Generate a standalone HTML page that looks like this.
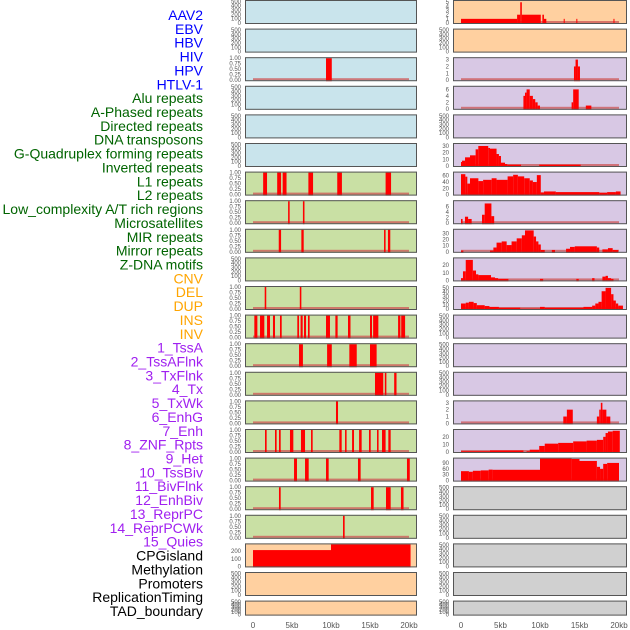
<!DOCTYPE html>
<html><head><meta charset="utf-8">
<style>
html,body{margin:0;padding:0;background:#fff;}
#wrap{position:relative;width:630px;height:630px;overflow:hidden;}
svg{position:absolute;left:0;top:0;}
</style></head>
<body>
<div id="wrap">
<svg id="chart" width="630" height="630" xmlns="http://www.w3.org/2000/svg"></svg>
</div>
<script>
// ---------- data ----------
const trackLabels = ["AAV2","EBV","HBV","HIV","HPV","HTLV-1","Alu repeats","A-Phased repeats","Directed repeats","DNA transposons","G-Quadruplex forming repeats","Inverted repeats","L1 repeats","L2 repeats","Low_complexity A/T rich regions","Microsatellites","MIR repeats","Mirror repeats","Z-DNA motifs","CNV","DEL","DUP","INS","INV","1_TssA","2_TssAFlnk","3_TxFlnk","4_Tx","5_TxWk","6_EnhG","7_Enh","8_ZNF_Rpts","9_Het","10_TssBiv","11_BivFlnk","12_EnhBiv","13_ReprPC","14_ReprPCWk","15_Quies","CPGisland","Methylation","Promoters","ReplicationTiming","TAD_boundary"];
const xTickValues = [0,5,10,15,20];
const xTickLabels = ["0","5kb","10kb","15kb","20kb"];
const emptyTicks = [0,100,200,300,400,500];
const binaryTicks = [0,0.25,0.5,0.75,1];

// left column: binary presence intervals [startKb, endKb]
const leftBars = {
  2:[[9.36,10.1]],
  6:[[1.3,1.8],[3.1,3.6],[3.8,4.3],[7.1,7.7],[10.8,11.4],[17.0,17.7]],
  7:[[4.5,4.7],[6.4,6.6]],
  8:[[3.3,3.6],[6.2,6.5],[16.8,17.0],[17.3,17.6]],
  10:[[1.5,1.7],[6.0,6.2]],
  11:[[0.17,0.56],[0.9,1.45],[1.8,2.18],[2.56,2.82],[3.46,3.68],[5.68,5.9],[6.1,6.37],[6.54,6.8],[7.05,7.26],[9.36,9.87],[10.56,10.85],[12.18,12.5],[15.0,15.26],[15.4,16.07],[18.6,18.9],[19.0,19.5]],
  12:[[5.9,6.4],[9.5,10.1],[12.35,13.3],[15.0,15.85]],
  13:[[15.64,16.7],[16.9,17.1],[18.1,18.4]],
  14:[[10.64,10.9]],
  15:[[1.54,1.75],[2.82,3.03],[3.33,3.55],[4.74,5.17],[6.15,6.67],[7.44,7.65],[11.07,11.37],[11.8,12.0],[12.7,12.95],[13.6,13.93],[14.87,15.09],[15.9,16.1],[16.54,17.0],[17.35,17.65]],
  16:[[5.26,5.64],[6.67,7.14],[9.36,9.7],[13.46,13.8],[19.74,20.1]],
  17:[[3.33,3.55],[15.13,15.47],[17.05,17.65],[18.97,19.3]],
  18:[[11.54,11.75]]
};
// CpG island / methylation values [startKb,endKb,value]
const cpgSegments = [[0,10,215],[10,20.2,300]];
const cpgTicks = [0,100,200];

// right column: histogram segments [startKb,endKb,value]
const rightHist = {
  0:[[0,7.1,1],[7.1,7.5,2],[7.5,7.7,5],[7.7,10.1,2],[10.3,10.5,2],[10.5,10.8,1],[13.0,13.1,1],[14.6,14.7,1],[19.3,19.4,1]],
  2:[[14.3,14.5,2],[14.5,14.8,3],[14.8,15.06,2]],
  3:[[7.9,8.1,4],[8.1,8.3,5],[8.3,8.7,6],[8.7,9.1,4],[9.1,9.4,3],[9.4,9.7,2],[9.7,10.0,1],[14.0,14.2,2],[14.2,14.9,6],[15.8,16.5,1]],
  5:[[0,0.13,6],[0.13,0.51,8],[0.51,1.14,13],[1.14,1.85,16],[1.85,2.19,25],[2.19,3.45,30],[3.45,3.67,27],[3.67,4.5,26],[4.5,4.8,18],[4.8,5.06,15],[5.06,5.57,5],[5.57,5.86,3],[5.86,7.6,2],[9.9,15.15,2]],
  6:[[0,0.55,65],[0.55,0.8,57],[0.8,1.14,35],[1.14,2.2,52],[2.2,2.8,43],[2.8,3.88,47],[3.88,4.5,52],[4.5,5.9,47],[5.9,6.6,58],[6.6,7.2,63],[7.2,8.0,58],[8.0,8.7,52],[8.7,9.1,45],[9.1,9.6,40],[9.6,10.1,62],[10.1,10.5,7],[10.5,12,10],[12,17.5,8],[17.5,18.5,6],[18.5,19.6,8],[19.6,20.2,10]],
  7:[[0,0.2,1.5],[0.5,0.9,2.3],[0.9,1.35,1.5],[2.66,3.0,3],[3.0,3.85,7],[3.85,4.2,2.5]],
  8:[[0,0.3,2],[3.67,4.1,2],[4.1,4.5,7],[4.5,5.15,15],[5.15,5.78,17],[5.78,6.4,11],[6.4,7.05,17],[7.05,7.7,22],[7.7,8.1,27],[8.1,9.2,35],[9.2,9.5,25],[9.5,9.8,17],[9.8,10.1,12],[10.1,10.6,3],[11.5,11.9,3],[13.3,13.8,5],[13.8,14.4,8],[14.4,17.2,9],[17.2,17.5,7],[17.9,18.6,4],[18.6,19.2,6],[19.2,19.9,3]],
  9:[[0,0.25,3],[0.25,0.6,12],[0.6,1.5,27],[1.5,1.9,13],[1.9,2.2,8],[2.2,3.8,7],[3.8,4.3,4],[4.3,4.7,3],[4.7,6.0,2],[10.0,10.4,2],[14.6,14.9,2],[16.6,16.9,3],[17.9,18.3,5],[18.3,18.6,6],[18.6,19.0,3],[19.0,19.3,2]],
  10:[[0,0.6,13],[0.6,1.0,15],[1.0,1.6,17],[1.6,2.0,14],[2.0,3.0,9],[3.0,3.6,7],[3.6,4.8,5],[4.8,7.5,3],[7.5,10.0,1],[10.0,10.6,5],[10.6,15.5,3],[15.5,16.6,5],[16.6,17.0,8],[17.0,17.4,13],[17.4,17.8,17],[17.8,18.3,42],[18.3,19.0,50],[19.0,19.3,35],[19.3,19.6,20],[19.6,19.9,13],[19.9,20.5,8]],
  14:[[12.95,13.4,1],[13.4,14.15,2],[17.2,17.5,1],[17.5,17.7,2],[17.7,17.9,3],[17.9,18.4,2],[18.4,18.9,1]],
  15:[[0,3.67,1],[3.67,7.9,2],[8.3,8.7,1],[8.7,9.9,3],[9.9,10.6,8],[10.6,12.3,11],[12.3,14.2,12],[14.2,15.9,14],[15.9,17.2,15],[17.2,18.0,16],[18.0,18.3,20],[18.3,18.6,25],[18.6,19.2,27],[19.2,20.1,28]],
  16:[[0,1.0,48],[1.0,1.5,45],[1.5,2.5,50],[2.5,3.5,52],[3.5,4.0,56],[4.0,10.0,55],[10.0,14.0,120],[14.0,15.0,110],[15.0,17.2,100],[17.2,17.6,70],[17.6,18.0,60],[18.0,18.5,85],[18.5,20.0,90]]
};
const rightYMax = {0:5.3,2:3.2,3:6.8,5:33,6:70,7:7.8,8:36,9:29,10:52,14:3.2,15:29,16:112};
const rightTicks = {0:[0,1,2,3,4,5],2:[0,1,2,3],3:[0,2,4,6],5:[0,10,20,30],6:[0,20,40,60],7:[0,2,4,6],8:[0,10,20,30],9:[0,10,20],10:[0,10,20,30,40,50],14:[0,1,2,3],15:[0,10,20],16:[0,30,60,90]};

// ---------- layout ----------
const NS = "http://www.w3.org/2000/svg";
const svg = document.getElementById("chart");
const nRows = 22;
const rowTop = i => i*28.6;
const rowH = i => (i===21?15:24);
const cols = [
  {x0:245,x1:417,k0:253,k1:409,bgs:["#c9e4ec","#c9e4ec","#c9e4ec","#c9e4ec","#c9e4ec","#c9e4ec","#c9e0a4","#c9e0a4","#c9e0a4","#c9e0a4","#c9e0a4","#c9e0a4","#c9e0a4","#c9e0a4","#c9e0a4","#c9e0a4","#c9e0a4","#c9e0a4","#c9e0a4","#ffd0a0","#ffd0a0","#ffd0a0"]},
  {x0:453,x1:627,k0:461,k1:619,bgs:["#ffd0a0","#ffd0a0","#d8c8e4","#d8c8e4","#d8c8e4","#d8c8e4","#d8c8e4","#d8c8e4","#d8c8e4","#d8c8e4","#d8c8e4","#d8c8e4","#d8c8e4","#d8c8e4","#d8c8e4","#d8c8e4","#d8c8e4","#d0d0d0","#d0d0d0","#d0d0d0","#d0d0d0","#d0d0d0"]}
];
const xScale = (c,kb) => c.k0 + kb/20*(c.k1-c.k0);
const yScale = (i,v,ymax) => { const t=rowTop(i), h=rowH(i); const vv=Math.min(v,ymax); return t+h-1 - vv/ymax*(h-2); };

function mk(tag, attrs){ const e=document.createElementNS(NS,tag); for(const k in attrs) e.setAttribute(k,attrs[k]); svg.appendChild(e); return e; }

// labels
const labelColor = i => i<6?"#0000ff":(i<19?"#006400":(i<24?"#ffa500":(i<39?"#a020f0":"#000")));
trackLabels.forEach((s,i)=>{
  const t = mk("text",{x:203,y:20+i*13.86,"text-anchor":"end","font-family":"Liberation Sans, sans-serif","font-size":"14",fill:labelColor(i)});
  t.textContent = s;
  
  
});

function yTicks(c,i,ticks,ymax,fmt){
  ticks.forEach(v=>{
    const t = mk("text",{x:c.x0-4,y:yScale(i,v,ymax)+2,"text-anchor":"end","font-family":"Liberation Sans, sans-serif","font-size":"6",fill:"#555"});
    t.textContent = fmt(v);
    
    
  });
}

for(let ci=0; ci<2; ci++){
  const c = cols[ci];
  for(let i=0;i<nRows;i++){
    const t=rowTop(i), h=rowH(i);
    const bg = mk("rect",{x:c.x0,y:t,width:c.x1-c.x0,height:h,fill:c.bgs[i]});
    
    
    let mode="empty", ymax=510, ticks=emptyTicks, fmt=v=>String(v);
    if(ci===0 && leftBars[i]){ mode="bin"; ymax=1; ticks=binaryTicks; fmt=v=>v.toFixed(2); }
    if(ci===0 && i===19){ mode="cpg"; ymax=290; ticks=cpgTicks; }
    if(ci===1 && rightHist[i]){ mode="hist"; ymax=rightYMax[i]; ticks=rightTicks[i]; }
    if(mode==="bin"||mode==="hist"){
      const bl = mk("rect",{x:xScale(c,0),y:t+h-3,width:xScale(c,20)-xScale(c,0),height:2,fill:"rgba(205,85,85,0.75)"});
      
      
    }
    if(mode==="bin"){
      leftBars[i].forEach(b=>{
        const r = mk("rect",{x:xScale(c,b[0]),y:yScale(i,1,1),width:Math.max(1,xScale(c,b[1])-xScale(c,b[0])),height:yScale(i,0,1)-yScale(i,1,1)+1,fill:"#ff0000"});
        
        
      });
    }
    if(mode==="cpg"){
      cpgSegments.forEach(s=>{
        const y=yScale(i,s[2],ymax);
        const r = mk("rect",{x:xScale(c,s[0]),y:y,width:xScale(c,s[1])-xScale(c,s[0]),height:yScale(i,0,ymax)-y+1,fill:"#ff0000"});
        
        
      });
    }
    if(mode==="hist"){
      rightHist[i].forEach(s=>{
        const y=yScale(i,s[2],ymax);
        const r = mk("rect",{x:xScale(c,s[0]),y:y,width:Math.max(1,xScale(c,s[1])-xScale(c,s[0])),height:yScale(i,0,ymax)-y+1,fill:"#ff0000"});
        
        
      });
    }
    yTicks(c,i,ticks,ymax,fmt);
    const fr = mk("rect",{x:c.x0+0.5,y:t+0.5,width:c.x1-c.x0-1,height:h-1,fill:"none",stroke:"#555","stroke-width":1});
    
    
  }
  xTickValues.forEach((v,k)=>{
    const t = mk("text",{x:xScale(c,v),y:628,"text-anchor":"middle","font-family":"Liberation Sans, sans-serif","font-size":"8",fill:"#555"});
    t.textContent = xTickLabels[k];
    
    
  });
}
</script>
</body></html>
